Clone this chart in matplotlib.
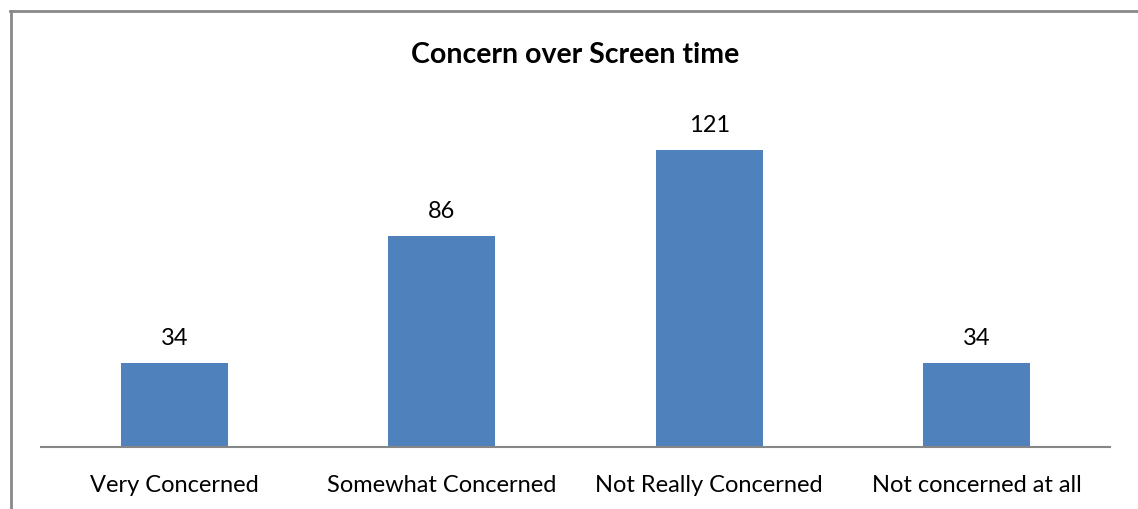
import matplotlib.pyplot as plt
from matplotlib.lines import Line2D

categories = ["Very Concerned", "Somewhat Concerned", "Not Really Concerned", "Not concerned at all"]
values = [34, 86, 121, 34]

W, H = 1138, 510
fig = plt.figure(figsize=(W / 100, H / 100), dpi=100)

# plot area in pixel coordinates
left, right, bottom, top = 41, 1110, 448, 104
ax = fig.add_axes([left / W, 1 - bottom / H, (right - left) / W, (bottom - top) / H])

ax.bar(range(len(values)), values, width=0.4, color="#4F81BD")
ax.set_xlim(-0.5, len(values) - 0.5)
ax.set_ylim(0, 140)

# value labels, ~19px above each bar
for i, v in enumerate(values):
    ax.annotate(str(v), (i, v), xytext=(0, 19 * 0.72), textcoords="offset points",
                ha="center", va="baseline", fontsize=17, family="Lato")

ax.set_xticks(range(len(values)))
ax.set_xticklabels(categories, fontsize=17, family="Lato")
for lbl in ax.get_xticklabels():
    lbl.set_va("baseline")
ax.tick_params(axis="x", length=0, pad=44 * 0.72)
ax.set_yticks([])
for s in ["top", "right", "left"]:
    ax.spines[s].set_visible(False)
ax.spines["bottom"].set_color("#868686")
ax.spines["bottom"].set_linewidth(1.5)

fig.text(575 / W, 1 - 63 / H, "Concern over Screen time", ha="center", va="baseline",
         fontsize=20.5, fontweight="bold", family="Lato")

# chart border (only top and left edges are visible)
fig.add_artist(Line2D([10 / W, 1], [1 - 12 / H, 1 - 12 / H], color="#898989", lw=2))
fig.add_artist(Line2D([11 / W, 11 / W], [0, 1 - 12 / H], color="#898989", lw=2))

fig.savefig("out.png", dpi=100)
